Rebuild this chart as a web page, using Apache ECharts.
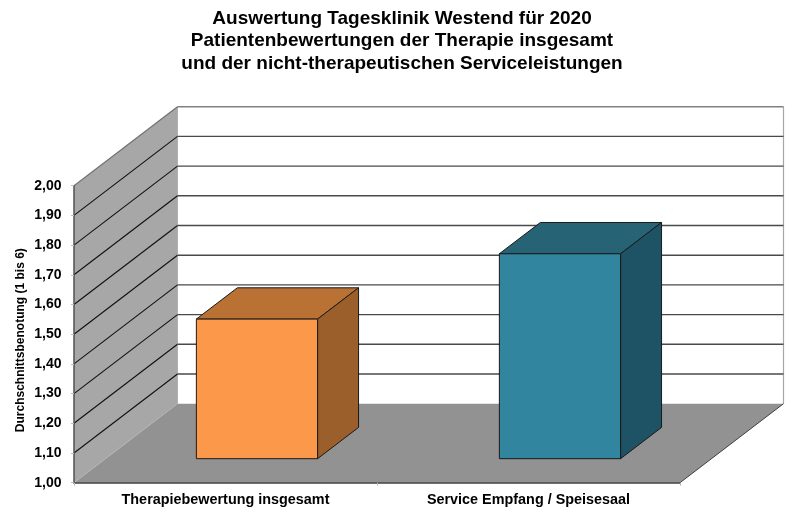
<!DOCTYPE html>
<html>
<head>
<meta charset="utf-8">
<style>html,body{margin:0;padding:0;background:#fff}#c{width:800px;height:513px}</style>
<script src="https://cdn.jsdelivr.net/npm/echarts@6/dist/echarts.min.js"></script>
</head>
<body>
<div id="c"></div>
<script>
const titleLines = ['Auswertung Tagesklinik Westend für 2020','Patientenbewertungen der Therapie insgesamt','und der nicht-therapeutischen Serviceleistungen'];
const categories = ['Therapiebewertung insgesamt','Service Empfang / Speisesaal'];
const values = [1.47, 1.69];
const gridValues = [1.1,1.2,1.3,1.4,1.5,1.6,1.7,1.8,1.9,2.0];
const yAxisName = 'Durchschnittsbenotung (1 bis 6)';
const frontColors = ['#FB9849','#31859F'];
const topColors = ['#B97234','#256375'];
const sideColors = ['#9A5F2B','#1E5265'];

const font = '"Liberation Sans", Arial, sans-serif';
const DX = 103.5, DY = 79;          // oblique depth of the chart box
const BAR_NEAR = 0.304, BAR_FAR = 0.70, BAR_W = 0.4;

const chart = echarts.init(document.getElementById('c'), null, {renderer:'canvas'});
const poly = (points, fill, stroke, lw, z2) => ({type:'polygon', z2:z2||0, shape:{points},
  style:{fill:fill||'none', stroke:stroke||'none', lineWidth:lw||0}});
const line = (a, b, stroke, lw, z2) => ({type:'line', z2:z2||0, shape:{x1:a[0],y1:a[1],x2:b[0],y2:b[1]},
  style:{stroke, lineWidth:lw, fill:'none'}});

chart.setOption({
  animation:false,
  backgroundColor:'#fff',
  title:{text:titleLines.join('\n'), left:397, top:2.5, textAlign:'center',
    textStyle:{fontFamily:font, fontWeight:'bold', fontSize:19, lineHeight:22.5, color:'#000'}},
  grid:{left:74, right:120, top:185.7, bottom:30.3, containLabel:false},
  xAxis:{type:'category', data:categories, z:10,
    axisLine:{lineStyle:{color:'#404040', width:1.5}},
    axisTick:{show:true, alignWithLabel:false, length:3, lineStyle:{color:'#bbbbbb', width:1}},
    axisLabel:{fontFamily:font, fontWeight:'bold', fontSize:14.4, color:'#000', margin:10},
    splitLine:{show:false}},
  yAxis:{type:'value', min:1, max:2, interval:0.1, z:10,
    name:yAxisName, nameLocation:'middle', nameGap:47, nameRotate:90, nameMoveOverlap:false,
    nameTextStyle:{fontFamily:font, fontWeight:'bold', fontSize:12, color:'#000', padding:[0,12,0,0]},
    axisLine:{show:true, lineStyle:{color:'#505050', width:1.5}},
    axisTick:{show:true, length:3, lineStyle:{color:'#bbbbbb', width:1}},
    axisLabel:{fontFamily:font, fontWeight:'bold', fontSize:14, color:'#000', margin:12.5,
      formatter:v => v.toFixed(2).replace('.', ',')},
    splitLine:{show:false}},
  series:[
    {type:'custom', name:'frame', coordinateSystem:'cartesian2d', silent:true, z:1, data:[[0,1]],
      encode:{x:0,y:1},
      renderItem:(p, api) => {
        const c = p.coordSys, l = c.x, r = c.x + c.width, t = c.y, b = c.y + c.height;
        return {type:'group', children:[
          poly([[l+DX,t-DY],[r+DX,t-DY],[r+DX,b-DY],[l+DX,b-DY]], '#fff'),
          poly([[l,b],[l+DX,b-DY],[l+DX,t-DY],[l,t]], '#A7A7A7'),
          poly([[l,b],[l+DX,b-DY],[r+DX,b-DY],[r,b]], '#929292'),
          line([l+DX,t-DY],[l+DX,b-DY],'#B0B0B0',1),
          line([r+DX,t-DY],[r+DX,b-DY],'#A8A8A8',1.2),
          line([l,b],[l+DX,b-DY],'#B4B4B4',1),
          line([r,b],[r+DX,b-DY],'#404040',1)
        ]};
      }},
    {type:'custom', name:'gridlines', coordinateSystem:'cartesian2d', silent:true, z:2,
      data:gridValues.map(v => [0, v]), encode:{x:0,y:1},
      renderItem:(p, api) => {
        const c = p.coordSys, l = c.x, r = c.x + c.width;
        const v = api.value(1), y = api.coord([0, v])[1];
        const top = v >= 2;
        return {type:'group', children:[
          line([l,y],[l+DX,y-DY], top ? '#707070' : '#101010', 1.1),
          line([l+DX,y-DY],[r+DX,y-DY], top ? '#808080' : '#4A4A4A', 1.4)
        ]};
      }},
    {type:'custom', name:'bars', coordinateSystem:'cartesian2d', z:3,
      data:values.map((v,i) => [i, v]), encode:{x:0,y:1},
      renderItem:(p, api) => {
        const i = api.value(0);
        const cx = api.coord([i, 1])[0], y0 = api.coord([i, 1])[1], y1 = api.coord([i, api.value(1)])[1];
        const w = api.size([1,0])[0] * BAR_W;
        const ox = DX*BAR_NEAR, oy = DY*BAR_NEAR;
        const dx = DX*(BAR_FAR-BAR_NEAR), dy = DY*(BAR_FAR-BAR_NEAR);
        const L = cx - w/2 + ox, R = cx + w/2 + ox, T = y1 - oy, B = y0 - oy;
        const edge = '#1a1a1a';
        return {type:'group', children:[
          poly([[L,T],[R,T],[R+dx,T-dy],[L+dx,T-dy]], topColors[i], edge, 1),
          poly([[R,T],[R+dx,T-dy],[R+dx,B-dy],[R,B]], sideColors[i], edge, 1),
          poly([[L,T],[R,T],[R,B],[L,B]], frontColors[i], edge, 1)
        ]};
      }}
  ]
});
</script>
</body>
</html>
